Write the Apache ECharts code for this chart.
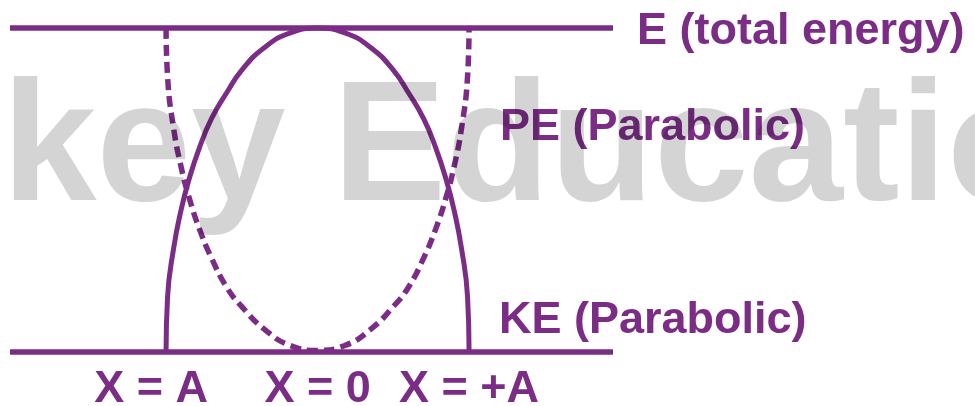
<!DOCTYPE html>
<html>
	<head>
		<meta charset="utf-8" />
		<title>Energy in SHM</title>
		<style type="text/css">
			body,
			html,
			#chart {
				width: 100%;
				height: 100%;
				overflow: hidden;
				margin: 0;
				background: #ffffff;
			}
		</style>
	</head>
	<body>
		<div id="chart"></div>
		<script src="https://cdn.jsdelivr.net/npm/echarts@6/dist/echarts.min.js"></script>
		<script>
			// displacement samples (x / A)
			var xs = [-1, -0.99, -0.95, -0.9, -0.85, -0.78, -0.7, -0.6, -0.5, -0.35, -0.18, 0,
				0.18, 0.35, 0.5, 0.6, 0.7, 0.78, 0.85, 0.9, 0.95, 0.99, 1];
			// kinetic energy (solid curve), as a fraction of E
			var ke = [0, 0.17, 0.32, 0.44, 0.53, 0.63, 0.72, 0.8, 0.87, 0.94, 0.985, 1,
				0.985, 0.94, 0.87, 0.8, 0.72, 0.63, 0.53, 0.44, 0.32, 0.17, 0];
			// potential energy (dashed curve)
			var pe = [1, 0.85, 0.69, 0.57, 0.48, 0.38, 0.29, 0.2, 0.14, 0.07, 0.02, 0.005,
				0.02, 0.07, 0.14, 0.2, 0.29, 0.38, 0.48, 0.57, 0.69, 0.85, 1];
			// the two horizontal lines: total energy and zero level
			var lineXs = [-2.03, 1.95];
			var totalE = 1;
			var zeroE = 0;
			// bottom tick labels
			var tickValues = [-1, 0, 1];
			var tickLabels = ['X = A', 'X = 0', 'X = +A'];

			var purple = '#7b2d86';
			var font = 'Liberation Sans, Arial, sans-serif';

			function pairs(a, b) {
				return a.map(function (v, i) {
					return [v, b[i]];
				});
			}
			function flat(y) {
				return lineXs.map(function (x) {
					return [x, y];
				});
			}

			var chart = echarts.init(document.getElementById('chart'));
			var option = {
				animation: false,
				grid: { left: 10, right: 362, top: 28, bottom: 54, outerBoundsMode: 'none', containLabel: false },
				xAxis: {
					type: 'value',
					min: -2.03,
					max: 1.95,
					axisLine: { show: false },
					axisTick: { show: false },
					splitLine: { show: false },
					axisLabel: {
						customValues: tickValues,
						margin: 15,
						color: purple,
						fontFamily: font,
						fontWeight: 'bold',
						fontSize: 45,
						formatter: function (v) {
							var i = tickValues.indexOf(v);
							if (i === 0) return '{l|' + tickLabels[i] + '}';
							return i < 0 ? '' : tickLabels[i];
						},
						rich: {
							l: {
								color: purple,
								fontFamily: font,
								fontWeight: 'bold',
								fontSize: 45,
								padding: [0, 30, 0, 0]
							}
						}
					}
				},
				yAxis: {
					type: 'value',
					min: 0,
					max: 1,
					show: false
				},
				series: [
					{
						name: 'E',
						type: 'line',
						data: flat(totalE),
						symbol: 'none',
						clip: false,
						lineStyle: { color: purple, width: 5.5 }
					},
					{
						name: 'zero',
						type: 'line',
						data: flat(zeroE),
						symbol: 'none',
						clip: false,
						lineStyle: { color: purple, width: 5.5 }
					},
					{
						name: 'KE',
						type: 'line',
						data: pairs(xs, ke),
						symbol: 'none',
						smooth: 0.5,
						clip: false,
						lineStyle: { color: purple, width: 5 }
					},
					{
						name: 'PE',
						type: 'line',
						data: pairs(xs, pe),
						symbol: 'none',
						smooth: 0.5,
						clip: false,
						lineStyle: { color: purple, width: 5.5, type: [11, 6] }
					}
				],
				graphic: [
					{
						type: 'text',
						x: 2,
						y: 153,
						z: 100,
						silent: true,
						style: {
							text: 'key Education',
							font: 'bold 170px ' + font,
							fill: 'rgba(0,0,0,0.17)',
							verticalAlign: 'middle'
						}
					},
					{
						type: 'text',
						x: 637,
						y: 32,
						style: {
							text: 'E (total energy)',
							font: 'bold 45px ' + font,
							fill: purple,
							verticalAlign: 'middle'
						}
					},
					{
						type: 'text',
						x: 500,
						y: 128,
						style: {
							text: 'PE (Parabolic)',
							font: 'bold 45px ' + font,
							fill: purple,
							verticalAlign: 'middle'
						}
					},
					{
						type: 'text',
						x: 499,
						y: 321,
						style: {
							text: 'KE (Parabolic)',
							font: 'bold 45px ' + font,
							fill: purple,
							verticalAlign: 'middle'
						}
					}
				]
			};
			chart.setOption(option);
		</script>
	</body>
</html>
